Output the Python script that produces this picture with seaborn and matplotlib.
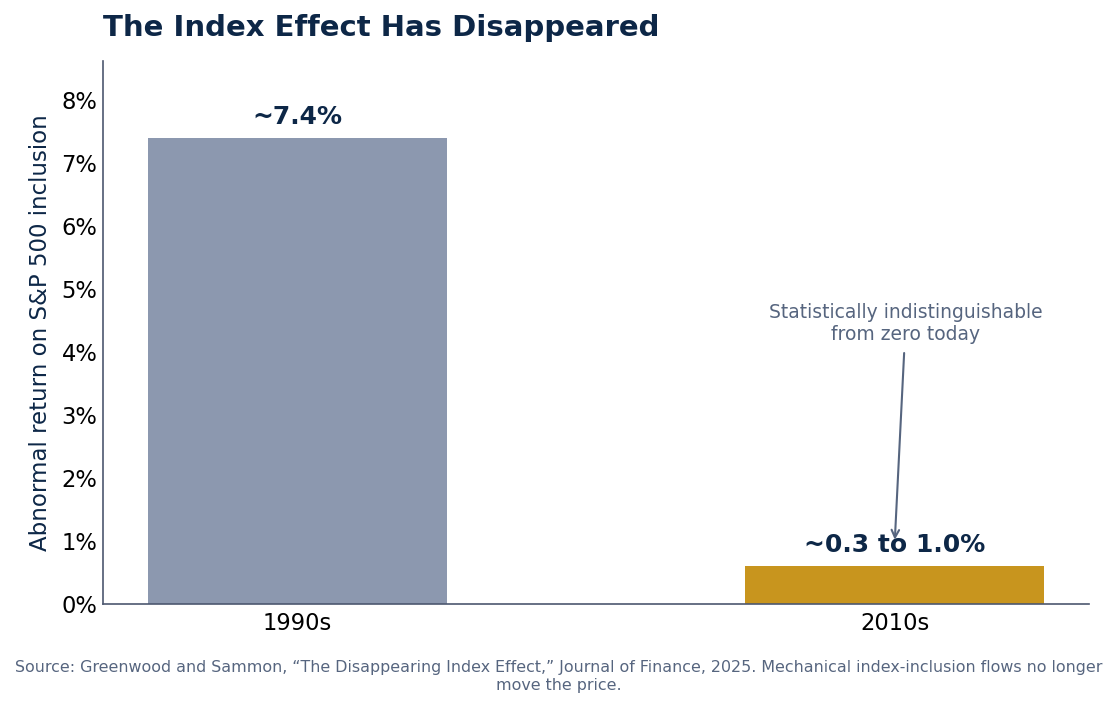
"""
plot.py
----------------------------------
Bar chart: abnormal return on S&P 500 inclusion, 1990s vs 2010s.
"""

import matplotlib
matplotlib.use("Agg")
import matplotlib.pyplot as plt
import pandas as pd
import seaborn as sns

# --------------------------------------------------------------------------
# Data
# --------------------------------------------------------------------------
decades = ["1990s", "2010s"]
abnormal_return = [7.4, 0.6]
bar_labels = ["~7.4%", "~0.3 to 1.0%"]
y_ticks = [0, 1, 2, 3, 4, 5, 6, 7, 8]

NAVY = "#0d2747"
SLATE = "#56657f"
BAR_COLORS = ["#8c98af", "#c8951e"]

sns.set_style("white")
plt.rcParams["font.family"] = ["DejaVu Sans"]

df = pd.DataFrame({"decade": decades, "ret": abnormal_return})

fig = plt.figure(figsize=(11.17, 7.07), dpi=100)
ax = fig.add_axes([0.0922, 0.1457, 0.8828, 0.768])

sns.barplot(data=df, x="decade", y="ret", hue="decade", palette=BAR_COLORS,
            width=0.5, legend=False, ax=ax, saturation=1, linewidth=0)

ax.set_xlim(-0.325, 1.325)
ax.set_ylim(0, 8.62)
ax.set_yticks(y_ticks)
ax.set_yticklabels([f"{t}%" for t in y_ticks])
ax.tick_params(axis="both", length=0, labelsize=16.3, colors="black")
ax.tick_params(axis="y", pad=4)
ax.tick_params(axis="x", pad=6)
ax.set_xlabel("")
ax.set_ylabel("Abnormal return on S&P 500 inclusion", fontsize=16.5,
              color=NAVY, labelpad=7)

for side in ["top", "right"]:
    ax.spines[side].set_visible(False)
for side in ["left", "bottom"]:
    ax.spines[side].set_color("#4d5870")
    ax.spines[side].set_linewidth(1.2)

# value labels above each bar
for i, (val, lab) in enumerate(zip(abnormal_return, bar_labels)):
    ax.text(i, val + 0.14, lab, ha="center", va="bottom", fontsize=18,
            fontweight="bold", color=NAVY)

# annotation for the 2010s bar
ax.annotate("Statistically indistinguishable\nfrom zero today",
            xy=(1, 1.02), xytext=(1.018, 4.45),
            ha="center", va="center", fontsize=13.5, color=SLATE,
            arrowprops=dict(arrowstyle="->", color=SLATE, lw=1.5,
                            shrinkA=4, shrinkB=0))

fig.text(0.0922, 0.96, "The Index Effect Has Disappeared", ha="left",
         va="center", fontsize=21, fontweight="bold", color=NAVY)

fig.text(0.5, 0.043,
         "Source: Greenwood and Sammon, \u201cThe Disappearing Index Effect,\u201d "
         "Journal of Finance, 2025. Mechanical index-inclusion flows no longer\n"
         "move the price.",
         ha="center", va="center", fontsize=11.4, color=SLATE)

fig.savefig("out.png", dpi=100)
